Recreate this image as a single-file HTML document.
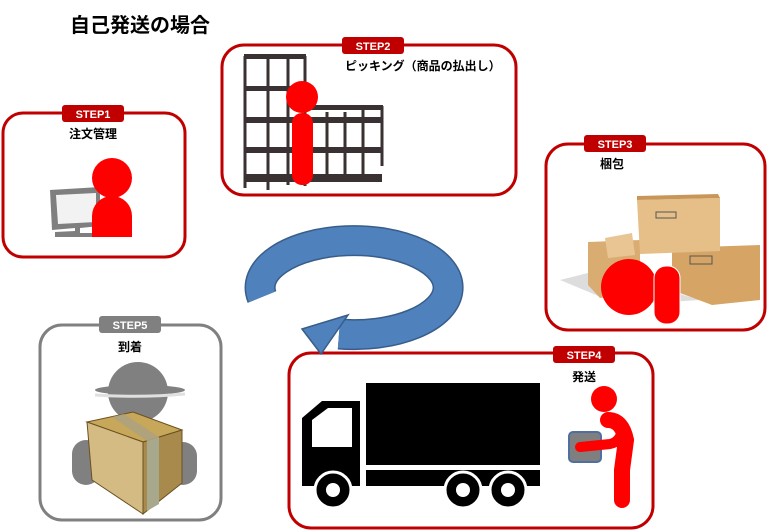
<!DOCTYPE html>
<html><head><meta charset="utf-8"><style>
html,body{margin:0;padding:0;background:#fff;}
svg{display:block;}
text{font-family:"Liberation Sans","Noto Sans CJK JP",sans-serif;font-weight:bold;}
</style></head><body>
<svg width="775" height="532" viewBox="0 0 775 532" xmlns="http://www.w3.org/2000/svg">
<text x="70" y="32" font-size="20" fill="#000">自己発送の場合</text>

<!-- STEP1 -->
<rect x="3" y="113" width="182" height="144" rx="20" fill="#fff" stroke="#c00000" stroke-width="3"/>
<rect x="62" y="105" width="62" height="17" rx="3" fill="#c00000"/>
<text x="93" y="118" font-size="11" fill="#fff" text-anchor="middle">STEP1</text>
<text x="93" y="138" font-size="12" fill="#000" text-anchor="middle">注文管理</text>
<path d="M50 190 L100 187 L100 226 L80 228 L80 233 L102 233 L102 237 L55 237 L55 232 L75 231 L75 228 L52 230 Z" fill="#7f7f7f"/>
<path d="M56 195 L96 193 L96 222 L58 224 Z" fill="#fff" opacity="0.9"/>
<circle cx="112" cy="178" r="20" fill="#ff0000"/>
<path d="M92 237 L92 216 A20 20 0 0 1 132 216 L132 237 Z" fill="#ff0000"/>

<!-- STEP2 -->
<rect x="222" y="45" width="294" height="150" rx="22" fill="#fff" stroke="#c00000" stroke-width="3"/>
<rect x="342" y="37" width="62" height="17" rx="3" fill="#c00000"/>
<text x="373" y="50" font-size="11" fill="#fff" text-anchor="middle">STEP2</text>
<text x="345" y="70" font-size="12" fill="#000">ピッキング（商品の払出し）</text>
<g stroke="#3a3232" fill="none" stroke-width="3">
<line x1="245" y1="56" x2="245" y2="188"/><line x1="268" y1="58" x2="268" y2="190"/>
<line x1="288" y1="56" x2="288" y2="185"/><line x1="305" y1="56" x2="305" y2="186"/>
<line x1="327" y1="112" x2="327" y2="178"/><line x1="345" y1="112" x2="345" y2="175"/>
<line x1="363" y1="110" x2="363" y2="178"/><line x1="382" y1="106" x2="382" y2="166"/>
</g>
<g fill="#3a3232">
<rect x="244" y="54" width="62" height="5"/><rect x="244" y="86" width="62" height="5"/>
<rect x="244" y="117" width="138" height="6"/><rect x="244" y="147" width="138" height="6"/>
<rect x="244" y="174" width="138" height="8"/><rect x="305" y="105" width="78" height="5"/>
</g>
<circle cx="302" cy="97" r="16" fill="#ff0000"/>
<rect x="292" y="113" width="21" height="72" rx="10" fill="#ff0000"/>

<!-- STEP3 -->
<rect x="546" y="144" width="219" height="186" rx="22" fill="#fff" stroke="#c00000" stroke-width="3"/>
<rect x="584" y="135" width="62" height="17" rx="3" fill="#c00000"/>
<text x="615" y="148" font-size="11" fill="#fff" text-anchor="middle">STEP3</text>
<text x="612" y="168" font-size="12" fill="#000" text-anchor="middle">梱包</text>
<path d="M560 280 L600 270 L700 300 L620 305 Z" fill="#ddd"/>
<path d="M588 242 L640 240 L640 290 L600 298 L588 285 Z" fill="#d9ad72"/>
<path d="M605 238 L632 233 L635 255 L608 258 Z" fill="#e9c594"/>
<path d="M672 248 L760 245 L760 300 L712 305 L672 290 Z" fill="#d6a566"/>
<path d="M637 200 L720 198 L720 251 L640 254 Z" fill="#e6be87"/>
<path d="M637 200 L720 198 L718 194 L637 196 Z" fill="#c9965a"/>
<rect x="656" y="212" width="20" height="6" fill="none" stroke="#555" stroke-width="1"/>
<rect x="690" y="256" width="22" height="8" fill="none" stroke="#555" stroke-width="1"/>
<circle cx="629" cy="287" r="28" fill="#ff0000"/>
<rect x="654" y="266" width="26" height="58" rx="12" fill="#ff0000" stroke="#fff" stroke-width="1"/>

<!-- STEP4 -->
<rect x="289" y="353" width="364" height="175" rx="22" fill="#fff" stroke="#c00000" stroke-width="3"/>
<rect x="553" y="346" width="62" height="17" rx="3" fill="#c00000"/>
<text x="584" y="359" font-size="11" fill="#fff" text-anchor="middle">STEP4</text>
<text x="584" y="381" font-size="12" fill="#000" text-anchor="middle">発送</text>
<rect x="366" y="383" width="174" height="82" fill="#000"/>
<rect x="366" y="470" width="174" height="16" fill="#000"/>
<path d="M302 418 L322 401 L360 401 L360 486 L302 486 Z" fill="#000"/>
<path d="M312 420 L328 408 L352 408 L352 447 L312 447 Z" fill="#fff"/>
<g fill="#000" stroke="#fff" stroke-width="3">
<circle cx="333" cy="490" r="18"/><circle cx="463" cy="490" r="18"/><circle cx="508" cy="490" r="18"/>
</g>
<g fill="#fff"><circle cx="333" cy="490" r="7"/><circle cx="463" cy="490" r="7"/><circle cx="508" cy="490" r="7"/></g>
<rect x="569" y="432" width="32" height="30" rx="4" fill="#7f7f7f" stroke="#4f6fa0" stroke-width="2"/>
<circle cx="604" cy="399" r="13" fill="#ff0000"/>
<path d="M608 420 Q622 420 626 440 L622 470 L622 500" stroke="#ff0000" stroke-width="16" fill="none" stroke-linecap="round"/>
<path d="M580 447 L610 444 Q620 442 622 430" stroke="#ff0000" stroke-width="10" fill="none" stroke-linecap="round"/>

<!-- STEP5 -->
<rect x="40" y="325" width="181" height="195" rx="22" fill="#fff" stroke="#808080" stroke-width="3"/>
<rect x="99" y="316" width="62" height="17" rx="3" fill="#808080"/>
<text x="130" y="329" font-size="11" fill="#fff" text-anchor="middle">STEP5</text>
<text x="130" y="351" font-size="12" fill="#000" text-anchor="middle">到着</text>
<circle cx="138" cy="392" r="30" fill="#808080"/>
<ellipse cx="140" cy="390" rx="45" ry="5" fill="#808080"/>
<path d="M95 395 Q140 398 185 394" stroke="#e0e0e0" stroke-width="3" fill="none"/>
<rect x="72" y="440" width="28" height="45" rx="14" fill="#808080"/>
<rect x="169" y="442" width="28" height="43" rx="14" fill="#808080"/>
<path d="M87 422 L133 412 L182 430 L143 442 Z" fill="#c7a75a" stroke="#6b5020" stroke-width="1"/>
<path d="M87 422 L143 442 L143 514 L92 480 Z" fill="#d4bb83" stroke="#6b5020" stroke-width="1"/>
<path d="M143 442 L182 430 L182 483 L143 514 Z" fill="#a88a4d" stroke="#6b5020" stroke-width="1"/>
<path d="M147 441 L159 437 L159 504 L147 511 Z" fill="#a8a88c"/>
<path d="M112 417 L124 414 L159 437 L147 441 Z" fill="#b0a27a"/>

<!-- circular arrow -->
<path d="M262 297 A94 47 0 1 1 339 334" fill="none" stroke="#385d8a" stroke-width="31"/>
<path d="M262 297 A94 47 0 1 1 339 334" fill="none" stroke="#4f81bd" stroke-width="28"/>
<path d="M302 329 L348 315 L321 354 Z" fill="#4f81bd" stroke="#385d8a" stroke-width="1.5"/>
</svg>
</body></html>
